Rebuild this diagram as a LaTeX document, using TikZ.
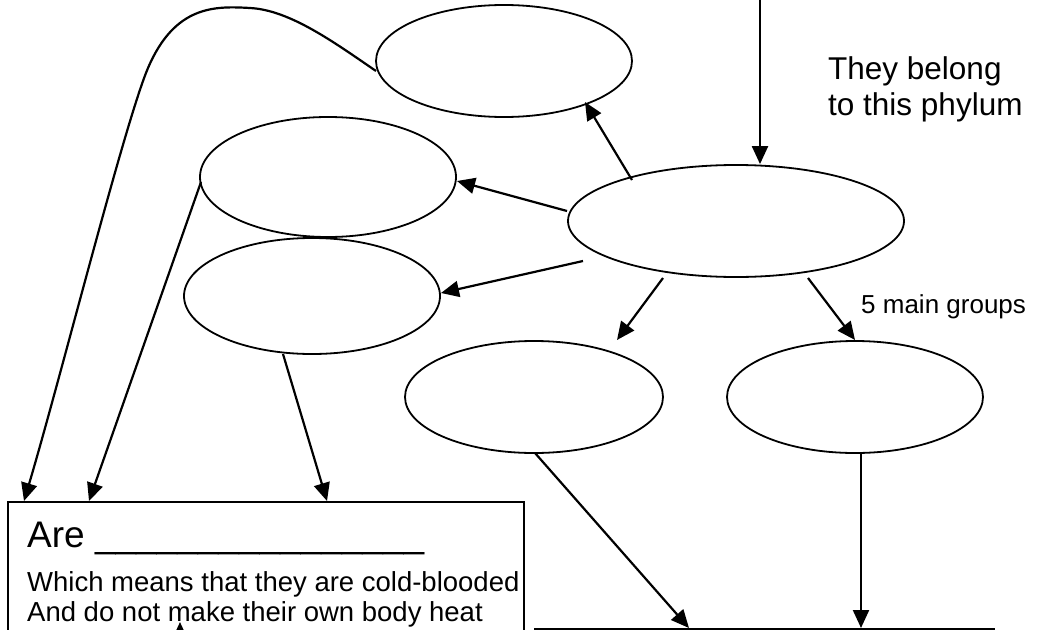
\documentclass[tikz,border=0pt]{standalone}
\usepackage{fontspec}
\setmainfont{Liberation Sans}
\usetikzlibrary{arrows.meta,calc,shapes.geometric}
\begin{document}
\begin{tikzpicture}[x=1pt,y=-1pt,
  ell/.style={draw, ellipse, line width=1.8pt, inner sep=0pt},
  arr/.style={-{Triangle[length=18pt,width=16pt]}, line width=2.2pt},
  txt/.style={inner sep=0pt, anchor=base west}]
\useasboundingbox (0,0) rectangle (1038,629);
\clip (0,0) rectangle (1038,629);
\node[ell, minimum width=256pt, minimum height=112pt] (e1) at (504,61) {};
\node[ell, minimum width=256pt, minimum height=120pt] (e2) at (328,177) {};
\node[ell, minimum width=256pt, minimum height=116pt] (e3) at (312,296) {};
\node[ell, minimum width=336pt, minimum height=112pt] (e4) at (736,221) {};
\node[ell, minimum width=258pt, minimum height=112pt] (e5) at (534,397) {};
\node[ell, minimum width=256pt, minimum height=112pt] (e6) at (855,397) {};
\node[draw, line width=2.2pt, minimum width=516pt, minimum height=200pt, inner sep=0pt, anchor=north west] (box) at (7,501) {};
\node[draw, line width=1.8pt, minimum width=459pt, minimum height=100pt, inner sep=0pt, anchor=north west] (box2) at (534,628) {};
\coordinate (top) at (760,-5);
\coordinate (below) at (180,680);
\draw[arr] (top) -- (top |- e4.north);
\draw[arr] ($(e4)+(-104,-41)$) -- ($(e1)+(81,41)$);
\draw[arr] ($(e4)+(-169,-10)$) -- ($(e2)+(129,4)$);
\draw[arr] ($(e4)+(-153,40)$) -- ($(e3)+(129,-3)$);
\draw[arr] ($(e4)+(-73,57)$) -- ($(e5)+(83,-57)$);
\draw[arr] ($(e4)+(72,57)$) -- ($(e6)+(0,-57)$);
\draw[arr] ($(e5)+(1,56)$) -- ($(box2.north west)+(155,0)$);
\draw[arr] ($(e6)+(6,56)$) -- ($(box2.north west)+(327,0)$);
\draw[arr] ($(e2)+(-127,5)$) -- ($(box.north west)+(82,0)$);
\draw[arr] ($(e3)+(-29,58)$) -- ($(box.north west)+(320,0)$);
\draw[arr] ($(e1)+(-128,10)$) .. controls (335,43) and (290,10) .. (250,8)
  .. controls (215,6) and (175,5) .. (148,68)
  .. controls (125,122) and (60,380) .. ($(box.north west)+(17,0)$);
\draw[arr] (below) -- ($(box.north west)+(173,121)$);
\node[txt, font=\fontsize{31.5}{36}\selectfont] (t1) at (828,79) {They belong};
\node[txt, font=\fontsize{31.5}{36}\selectfont] (t2) at (828,115) {to this phylum};
\node[txt, font=\fontsize{26}{30}\selectfont] (t3) at (861,313) {5 main groups};
\node[txt, font=\fontsize{37}{42}\selectfont] (t4) at (27,547) {Are \_\_\_\_\_\_\_\_\_\_\_\_\_\_\_\_};
\node[txt, font=\fontsize{27.5}{30}\selectfont] (t5) at (27,591) {Which means that they are cold-blooded};
\node[txt, font=\fontsize{27.5}{30}\selectfont] (t6) at (27,621) {And do not make their own body heat};
\end{tikzpicture}
\end{document}
